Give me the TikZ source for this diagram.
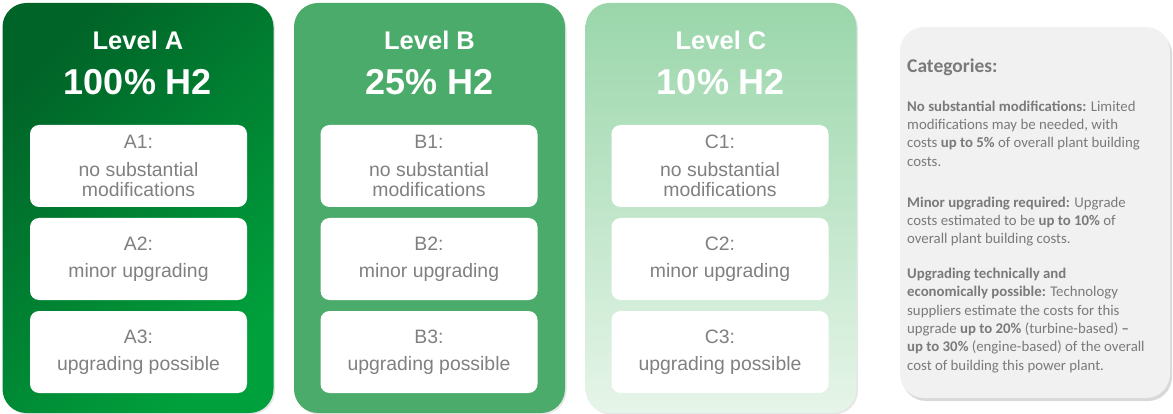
\documentclass[tikz,border=0pt]{standalone}
\usepackage{fontspec}
\setmainfont{Liberation Sans}
\newfontfamily\catfont[Ligatures=TeX]{Carlito}
\usetikzlibrary{shadows}

\definecolor{greenDark}{RGB}{0,100,40}
\definecolor{greenLight}{RGB}{0,160,60}
\definecolor{greenB}{RGB}{75,171,106}
\definecolor{greenCtop}{RGB}{154,214,170}
\definecolor{greenCbot}{RGB}{230,245,233}
\definecolor{itemgray}{RGB}{128,128,128}
\definecolor{catgray}{RGB}{122,122,122}
\definecolor{catfill}{RGB}{241,241,241}

\begin{document}
\begin{tikzpicture}[x=1pt, y=-1pt,
    panel/.style={rounded corners=24pt, minimum width=271pt, minimum height=410pt, inner sep=0pt,
      drop shadow={opacity=0.2, shadow xshift=1.5pt, shadow yshift=-1.5pt}},
    panelA/.style={panel, top color=greenDark, bottom color=greenLight, shading angle=45},
    panelB/.style={panel, fill=greenB},
    panelC/.style={panel, top color=greenCtop, bottom color=greenCbot},
    leveltxt/.style={anchor=base, text=white, font=\fontsize{25.5}{28}\selectfont\bfseries},
    pcttxt/.style={anchor=base, text=white, font=\fontsize{36}{40}\selectfont\bfseries},
    item/.style={fill=white, rounded corners=9pt, minimum width=217pt, minimum height=82pt,
      inner sep=0pt, align=center, text=itemgray, font=\fontsize{19.4}{20}\selectfont},
    catbox/.style={fill=catfill, rounded corners=24pt, minimum width=270pt, minimum height=371pt,
      drop shadow={opacity=0.3, shadow xshift=2pt, shadow yshift=-3pt}},
    cathead/.style={anchor=base west, inner sep=0pt, text=catgray, font=\catfont\bfseries\fontsize{19.5}{22}\selectfont},
    catpar/.style={anchor=north west, inner sep=0pt, align=left, text=catgray, font=\catfont\fontsize{14.8}{18.3}\selectfont}
  ]
  \useasboundingbox (0,0) rectangle (1173,414);

  % level panels
  \node[panelA] (pA) at (138,208) {};
  \node[panelB] (pB) at (429.5,208) {};
  \node[panelC] (pC) at (721,208) {};

  \foreach \lev/\cx/\pct in {A/138/100, B/429.5/25, C/721/10}
  {
    \node[leveltxt] (lev\lev) at (\cx,50) {Level \lev};
    \node[pcttxt] (pct\lev) at (\cx,95) {\pct\% H2};
  }

  \foreach \lev/\cx in {A/138.5, B/429, C/720}
  {
    \node[item] (\lev1) at (\cx,166) {\lev1:\\[8pt]no substantial\\modifications};
    \node[item] (\lev2) at (\cx,259) {\lev2:\\[7pt]minor upgrading};
    \node[item] (\lev3) at (\cx,352) {\lev3:\\[7pt]upgrading possible};
  }

  % categories
  \node[catbox] (cat) at (1035,212.5) {};
  \node[cathead] (catT) at (907,73) {Categories:};
  \node[catpar] (cat1) at (907,100.5) {\textbf{No substantial modifications:} Limited\\
    modifications may be needed, with\\
    costs \textbf{up to 5\%} of overall plant building\\
    costs.};
  \node[catpar] (cat2) at (907,196.5) {\textbf{Minor upgrading required:} Upgrade\\
    costs estimated to be \textbf{up to 10\%} of\\
    overall plant building costs.};
  \node[catpar] (cat3) at (907,268) {\textbf{Upgrading technically and}\\
    \textbf{economically possible:} Technology\\
    suppliers estimate the costs for this\\
    upgrade \textbf{up to 20\%} (turbine-based) \textbf{\textendash}\\
    \textbf{up to 30\%} (engine-based) of the overall\\
    cost of building this power plant.};
\end{tikzpicture}
\end{document}
